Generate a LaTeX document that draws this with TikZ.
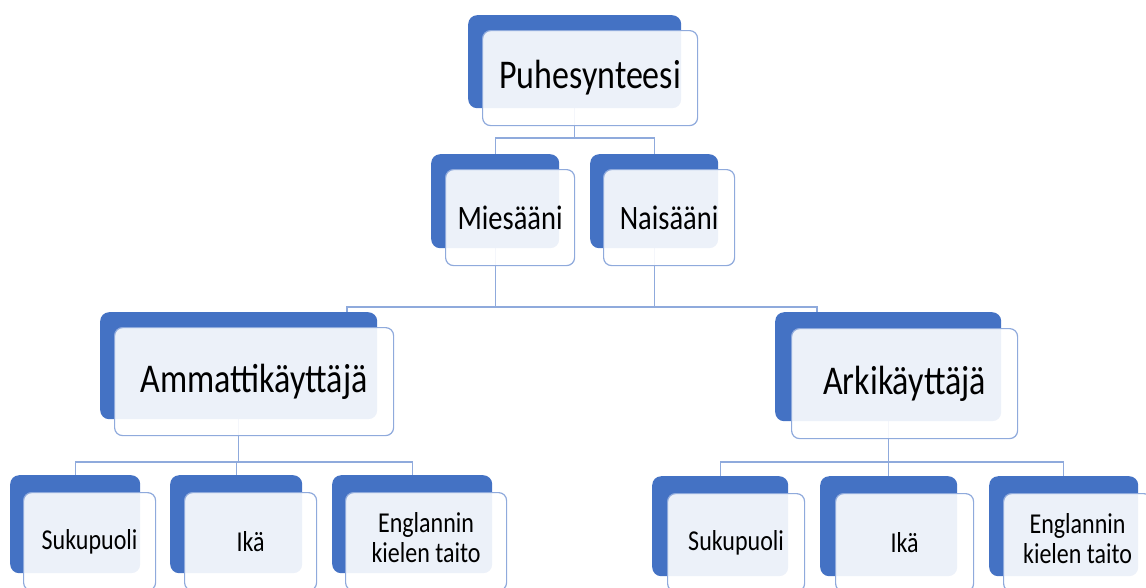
\documentclass[tikz,border=0pt]{standalone}
\usepackage{graphicx}
\usepackage{fontspec}
\setmainfont{Carlito}
\definecolor{accent}{HTML}{4472C4}
\definecolor{lineblue}{HTML}{8FAADC}
\pgfdeclarelayer{background}
\pgfsetlayers{background,main}
\newcommand{\stretchtxt}[1]{\scalebox{1}[1.2]{#1}}
\newcommand{\twolines}[2]{\stretchtxt{\begin{tabular}{@{}c@{}}#1\\#2\end{tabular}}}
\tikzset{
  backbox/.style={fill=accent, draw=none, rounded corners=9pt, anchor=north west, inner sep=0pt},
  frontbox/.style={fill=white, fill opacity=0.9, text opacity=1, draw=lineblue, line width=1.2pt,
    rounded corners=8pt, anchor=north west, inner sep=0pt, align=center, text=black},
  conn/.style={draw=lineblue, line width=1.4pt},
  lone/.style={font=\fontsize{34}{41}\selectfont},
  ltwo/.style={font=\fontsize{28.5}{34}\selectfont},
  lthree/.style={font=\fontsize{34}{41}\selectfont},
  lfour/.style={font=\fontsize{24}{25}\selectfont},
}
\begin{document}
\begin{tikzpicture}[x=1pt,y=-1pt]
\useasboundingbox (0,0) rectangle (1146,587);
\clip (0,0) rectangle (1146,587);
% level 1
\node[backbox, minimum width=213pt, minimum height=93pt] (b1) at (468,15) {};
\node[frontbox, lone, minimum width=215pt, minimum height=95pt] (f1) at (482,30) {\stretchtxt{Puhesynteesi}};
% level 2
\node[backbox, minimum width=128pt, minimum height=94pt] (b2a) at (431,154) {};
\node[frontbox, ltwo, minimum width=129pt, minimum height=96pt] (f2a) at (445,169) {\stretchtxt{Miesääni}};
\node[backbox, minimum width=128pt, minimum height=94pt] (b2b) at (590,154) {};
\node[frontbox, ltwo, minimum width=131pt, minimum height=96pt] (f2b) at (603,169) {\stretchtxt{Naisääni}};
% level 3
\node[backbox, minimum width=277pt, minimum height=107pt] (b3a) at (100,312) {};
\node[frontbox, lthree, minimum width=279pt, minimum height=108pt] (f3a) at (114,327) {\stretchtxt{Ammattikäyttäjä}};
\node[backbox, minimum width=226pt, minimum height=109pt] (b3b) at (775,312) {};
\node[frontbox, lthree, minimum width=226pt, minimum height=110pt] (f3b) at (791,328) {\stretchtxt{Arkikäyttäjä}};
% level 4 left
\node[backbox, minimum width=130pt, minimum height=98pt] (b4a) at (10,475) {};
\node[frontbox, lfour, minimum width=132pt, minimum height=98pt] (f4a) at (23,492) {\stretchtxt{Sukupuoli}};
\node[backbox, minimum width=132pt, minimum height=98pt] (b4b) at (170,475) {};
\node[frontbox, lfour, minimum width=132pt, minimum height=98pt] (f4b) at (184,492) {\stretchtxt{Ikä}};
\node[backbox, minimum width=160pt, minimum height=98pt] (b4c) at (332,475) {};
\node[frontbox, lfour, minimum width=161pt, minimum height=98pt] (f4c) at (345,492) {\twolines{Englannin}{kielen taito}};
% level 4 right
\node[backbox, minimum width=136pt, minimum height=100pt] (b4d) at (652,476) {};
\node[frontbox, lfour, minimum width=137pt, minimum height=98pt] (f4d) at (667,493) {\stretchtxt{Sukupuoli}};
\node[backbox, minimum width=137pt, minimum height=100pt] (b4e) at (820,476) {};
\node[frontbox, lfour, minimum width=138pt, minimum height=98pt] (f4e) at (835,493) {\stretchtxt{Ikä}};
\node[backbox, minimum width=149pt, minimum height=100pt] (b4f) at (989,476) {};
\node[frontbox, lfour, minimum width=148pt, minimum height=98pt] (f4f) at (1003,493) {\twolines{Englannin}{kielen taito}};
% bus coordinates
\coordinate (bus1) at (0,138);
\coordinate (bus2) at (0,307);
\coordinate (bus3) at (0,462);
\coordinate (t3a) at (347,312);
\coordinate (t3b) at (817,312);
\begin{pgfonlayer}{background}
\draw[conn] (b1.south) -- (b1.south |- bus1);
\draw[conn] (b2a.north) -- (b2a.north |- bus1) -- (b2b.north |- bus1) -- (b2b.north);
\draw[conn] (b2a.south) -- (b2a.south |- bus2);
\draw[conn] (b2b.south) -- (b2b.south |- bus2);
\draw[conn] (t3a) -- (t3a |- bus2) -- (t3b |- bus2) -- (t3b);
\draw[conn] (b3a.south) -- (b3a.south |- bus3);
\draw[conn] (b4a.north) -- (b4a.north |- bus3) -- (b4c.north |- bus3) -- (b4c.north);
\draw[conn] (b4b.north) -- (b4b.north |- bus3);
\draw[conn] (b3b.south) -- (b3b.south |- bus3);
\draw[conn] (b4d.north) -- (b4d.north |- bus3) -- (b4f.north |- bus3) -- (b4f.north);
\draw[conn] (b4e.north) -- (b4e.north |- bus3);
\end{pgfonlayer}
\end{tikzpicture}
\end{document}
